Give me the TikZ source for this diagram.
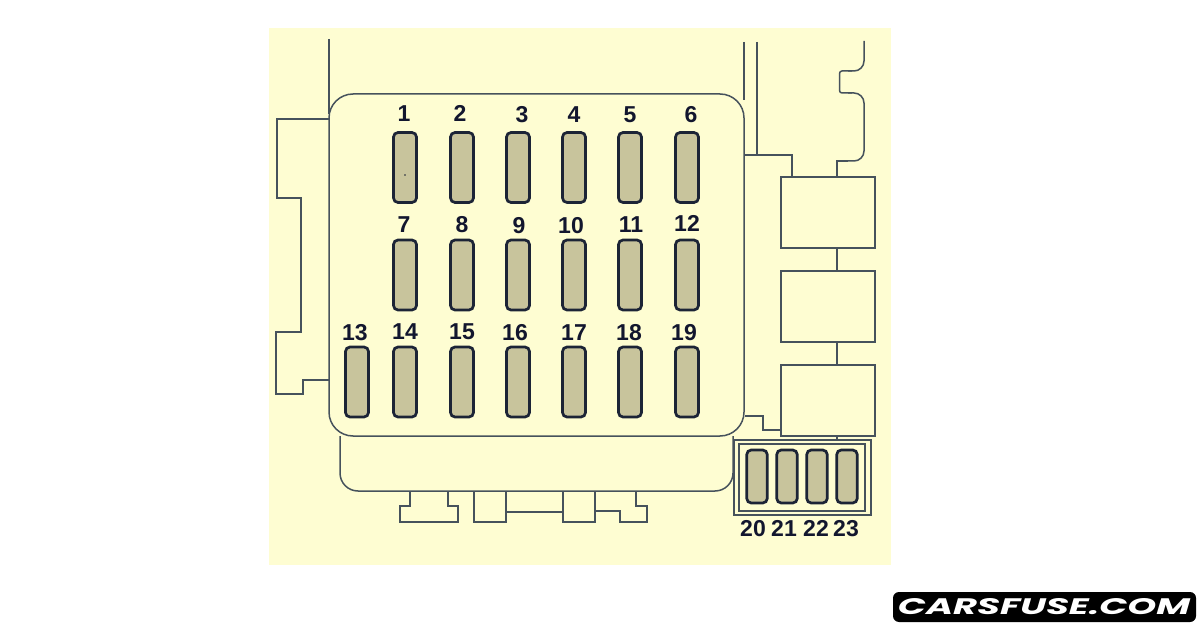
\documentclass[tikz,border=0pt]{standalone}
\usepackage{fontspec}
\setmainfont{Liberation Sans}
\newfontfamily\logofont{Poppins}[Scale=1]
\definecolor{panelbg}{HTML}{FEFDD2}
\definecolor{fusefill}{HTML}{C8C49C}
\definecolor{fuseline}{HTML}{1C2436}
\definecolor{wire}{HTML}{46525C}
\definecolor{labelink}{HTML}{12162E}
\tikzset{
  x=1pt,y=-1pt,
  outline/.style={draw=wire,line width=1.5pt,line join=miter},
  fusebig/.style={draw=fuseline,fill=fusefill,line width=2.7pt,rounded corners=4.5pt,minimum width=23pt,minimum height=70pt,inner sep=0pt},
  fusesmall/.style={draw=fuseline,fill=fusefill,line width=2.7pt,rounded corners=4.5pt,minimum width=20.5pt,minimum height=53pt,inner sep=0pt},
  relaybox/.style={outline,minimum width=94pt,minimum height=71pt,inner sep=0pt},
  num/.style={text=labelink,inner sep=0pt,text height=16.5pt,text depth=0pt,font=\fontsize{23}{23}\selectfont\bfseries},
}
\begin{document}
\begin{tikzpicture}
\useasboundingbox (0,0) rectangle (1200,628);
\fill[panelbg] (269,28) rectangle (891,565);

% left bracket and top line
\draw[outline] (329,39) -- (329,114);
\draw[outline] (329,119) -- (277,119) -- (277,198) -- (301,198) -- (301,332) -- (276,332) -- (276,394) -- (303,394) -- (303,380) -- (329,380);

% tray below panel
\draw[outline,rounded corners=18pt] (340,436) -- (340,491) -- (733,491) -- (733,436);

% bottom tabs
\draw[outline] (410,491) -- (410,506) -- (400,506) -- (400,522) -- (458,522) -- (458,506) -- (448,506) -- (448,491);
\draw[outline] (474,491) -- (474,522) -- (506,522) -- (506,491);
\draw[outline] (506,512) -- (563,512);
\draw[outline] (563,491) -- (563,522) -- (595,522) -- (595,491);
\draw[outline] (595,511) -- (620,511) -- (620,522) -- (647,522) -- (647,506) -- (636,506) -- (636,491);

% main panel
\node[outline,rounded corners=24pt,minimum width=415pt,minimum height=342pt,inner sep=0pt] (panel) at (536.5,265) {};

% top right lines
\draw[outline] (744,42) -- (744,100);
\draw[outline] (757,42) -- (757,155);

% relay boxes
\node[relaybox] (relayA) at (828,212.5) {};
\node[relaybox] (relayB) at (828,306.5) {};
\node[relaybox] (relayC) at (828,400.5) {};
\draw[outline] ([xshift=9pt]relayA.south) -- ([xshift=9pt]relayB.north);
\draw[outline] ([xshift=9pt]relayB.south) -- ([xshift=9pt]relayC.north);
\draw[outline] (744,155) -- (792,155) -- (792,177);
\draw[outline,rounded corners=10pt] (864,41) -- (864,71) -- (848,71);
\draw[outline,rounded corners=2.5pt] (852,71) -- (839.5,71) -- (839.5,93) -- (852,93);
\draw[outline,rounded corners=10pt] (848,93) -- (864,93) -- (864,161) -- (845,161);
\draw[outline] (848,161) -- (837,161) -- (837,177);
\draw[outline] (745,416) -- (763,416) -- (763,430) -- (781,430);
\draw[outline] (837,436) -- (837,440);

% mini fuse holder
\node[outline,minimum width=137pt,minimum height=75pt,inner sep=0pt] (holderOut) at (802.5,477.5) {};
\node[outline,minimum width=126pt,minimum height=67pt,inner sep=0pt] (holderIn) at (802,477.5) {};

% fuses row 1
\foreach \n/\cx in {1/405,2/462,3/518,4/574,5/630,6/687}
  \node[fusebig] (f\n) at (\cx,167.5) {};
% row 2
\foreach \n/\cx in {7/405,8/462,9/518,10/574,11/630,12/687}
  \node[fusebig] (f\n) at (\cx,275) {};
% row 3
\foreach \n/\cx in {13/357,14/405,15/462,16/518,17/574,18/630,19/687}
  \node[fusebig] (f\n) at (\cx,382) {};
% mini fuses
\foreach \n/\cx in {20/757,21/787,22/817,23/847}
  \node[fusesmall] (f\n) at (\cx,476.5) {};
\fill[fuseline] (405,175) circle (0.8pt);

% labels
\foreach \n/\cx/\cy in {1/404/113,2/460/113,3/522/114,4/574/114,5/630/114,6/691/114,
  7/404/224,8/462/224,9/519/225,10/571/225,11/631/224,12/687/223,
  13/355/332,14/405/331,15/462/331,16/515/332,17/574/332,18/629/332,19/684/332,
  20/753/528,21/784/528,22/816/528,23/846/528}
  \node[num] (t\n) at (\cx,\cy) {\n};

% logo
\node[fill=black,rounded corners=6pt,minimum width=303pt,minimum height=30pt,inner sep=0pt] (logobar) at (1044.5,607) {};
\node[text=white,inner sep=0pt] (logotext) at (1044,607) {\resizebox{292pt}{16pt}{\logofont\bfseries\itshape CARSFUSE.COM}};
\end{tikzpicture}
\end{document}
